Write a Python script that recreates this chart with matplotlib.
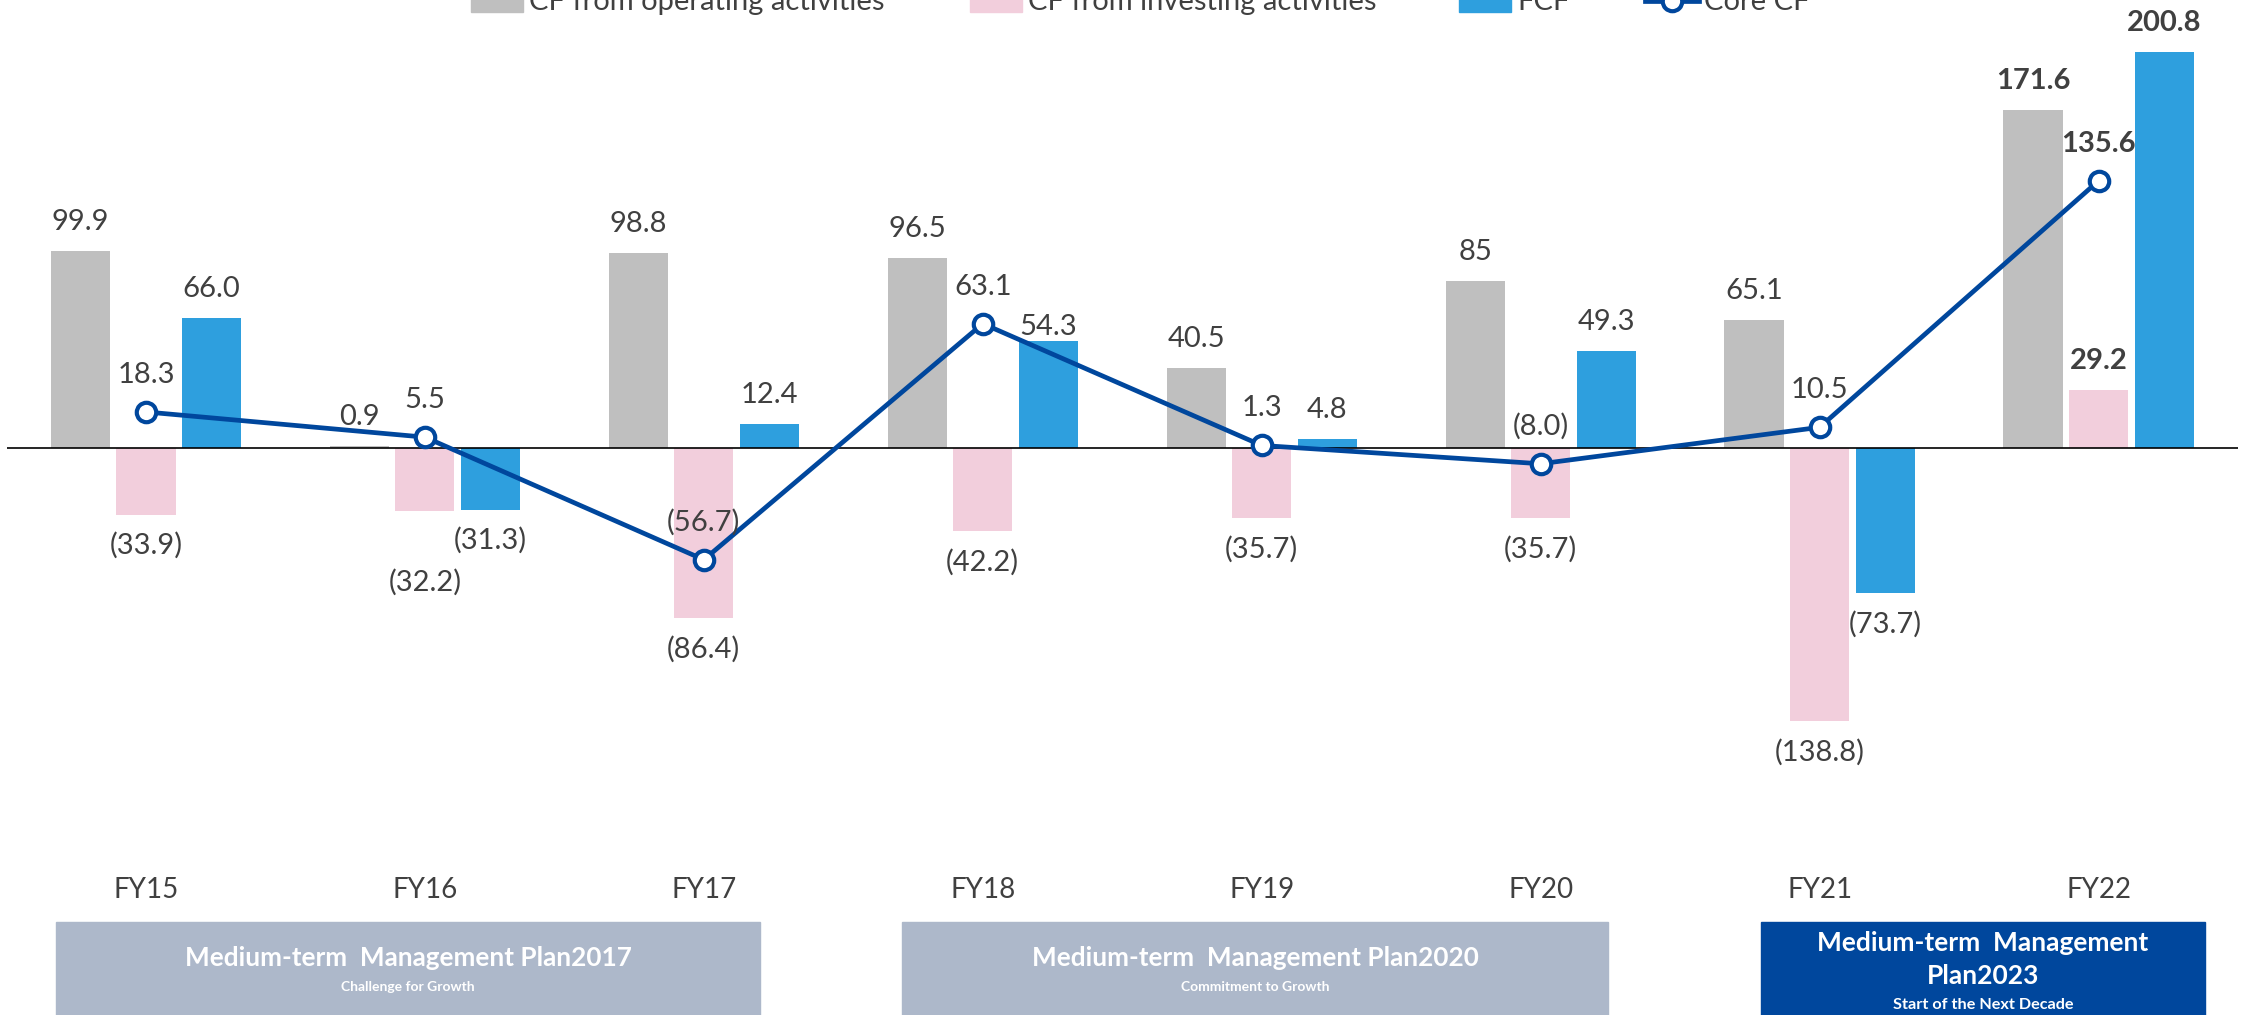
import matplotlib.pyplot as plt
import numpy as np
from matplotlib.patches import Rectangle
from matplotlib.lines import Line2D

plt.rcParams['font.family'] = ['Lato', 'DejaVu Sans']

# data
years = ['FY15', 'FY16', 'FY17', 'FY18', 'FY19', 'FY20', 'FY21', 'FY22']
cf_operating = [99.9, 0.9, 98.8, 96.5, 40.5, 85, 65.1, 171.6]
cf_investing = [-33.9, -32.2, -86.4, -42.2, -35.7, -35.7, -138.8, 29.2]
fcf = [66.0, -31.3, 12.4, 54.3, 4.8, 49.3, -73.7, 200.8]
core_cf = [18.3, 5.5, -56.7, 63.1, 1.3, -8.0, 10.5, 135.6]

plans = ['Medium-term  Management Plan2017', 'Medium-term  Management Plan2020',
         'Medium-term  Management\nPlan2023']
plan_subs = ['Challenge for Growth', 'Commitment to Growth', 'Start of the Next Decade']

c_op = '#BFBFBF'
c_inv = '#F2CEDC'
c_fcf = '#2E9FDE'
c_core = '#00479D'
c_txt = '#404040'

W, H = 2249, 1015
fig = plt.figure(figsize=(W / 100, H / 100), dpi=100)
ax_bottom = 860
ax = fig.add_axes([6.5 / W, 1 - ax_bottom / H, 2231.5 / W, ax_bottom / H])
px_per_unit = 1.97
ax.set_ylim(-(ax_bottom - 448) / px_per_unit, 448 / px_per_unit)
ax.set_xlim(-0.5, 7.5)

x = np.arange(len(years))
bw = 0.212
off = 0.235
ax.bar(x - off, cf_operating, bw, color=c_op, zorder=2)
ax.bar(x, cf_investing, bw, color=c_inv, zorder=2)
ax.bar(x + off, fcf, bw, color=c_fcf, zorder=2)
ax.axhline(0, color='black', lw=1.2, zorder=3)
ax.plot(x, core_cf, color=c_core, lw=3.4, marker='o', ms=14, mfc='white',
        mec=c_core, mew=3, zorder=5)


def fmt(v, g=False):
    s = f"{abs(v):g}" if g else f"{abs(v):.1f}"
    return f"({s})" if v < 0 else s


# manual nudges (pixels) for a few labels
extra = {('inv', 1): -40, ('fcf', 3): -15}

for i in range(len(years)):
    bold = 'bold' if i == len(years) - 1 else 'normal'
    for key, vals, dx, g in [('op', cf_operating, -off, True), ('inv', cf_investing, 0, False),
                             ('fcf', fcf, off, False)]:
        v = vals[i]
        dy = 29 if v >= 0 else -31
        dy += extra.get((key, i), 0)
        ax.annotate(fmt(v, g), (x[i] + dx, v), xytext=(0, dy), textcoords='offset pixels',
                    ha='center', va='center', fontsize=21, color=c_txt, fontweight=bold, zorder=6)
    ax.annotate(fmt(core_cf[i]), (x[i], core_cf[i]), xytext=(0, 37), textcoords='offset pixels',
                ha='center', va='center', fontsize=21, color=c_txt, fontweight=bold, zorder=6)

ax.set_xticks(x, years)
ax.tick_params(axis='x', length=0, pad=12, labelsize=20, labelcolor=c_txt)
ax.set_yticks([])
for s in ax.spines.values():
    s.set_visible(False)

# plan boxes
boxes = [(56, 760, '#ADB8CA'), (902, 1608, '#ADB8CA'), (1761, 2205, '#00479D')]
for (x0, x1, col), title, sub in zip(boxes, plans, plan_subs):
    fig.patches.append(Rectangle((x0 / W, 0), (x1 - x0) / W, (H - 922) / H,
                                 transform=fig.transFigure, color=col, zorder=0))
    xc = (x0 + x1) / 2 / W
    if '\n' in title:
        fig.text(xc, 1 - 943 / H, title.split('\n')[0], ha='center', va='center',
                 color='white', fontsize=19, fontweight='bold')
        fig.text(xc, 1 - 976 / H, title.split('\n')[1], ha='center', va='center',
                 color='white', fontsize=19, fontweight='bold')
        fig.text(xc, 1 - 1005 / H, sub, ha='center', va='center',
                 color='white', fontsize=11.7, fontweight='bold')
    else:
        fig.text(xc, 1 - 958 / H, title, ha='center', va='center',
                 color='white', fontsize=18.8, fontweight='bold')
        fig.text(xc, 1 - 987 / H, sub, ha='center', va='center',
                 color='white', fontsize=10, fontweight='bold')

# legend (cut at the top edge, as in the source)
leg_y = 1 - 2 / H
items = [(471, 523, c_op, 'CF from operating activities'),
         (970, 1022, c_inv, 'CF from investing activities'),
         (1459, 1511, c_fcf, 'FCF')]
for x0, x1, col, lab in items:
    fig.patches.append(Rectangle((x0 / W, 1 - 12 / H), (x1 - x0) / W, 22 / H,
                                 transform=fig.transFigure, color=col))
    fig.text((x1 + 6) / W, leg_y, lab, ha='left', va='center', fontsize=21, color=c_txt)
fig.lines.append(Line2D([1645 / W, 1699 / W], [1 - 1 / H, 1 - 1 / H], transform=fig.transFigure,
                        color=c_core, lw=3.4))
fig.lines.append(Line2D([1672 / W], [1 - 1 / H], transform=fig.transFigure, color=c_core,
                        marker='o', ms=14, mfc='white', mec=c_core, mew=3))
fig.text(1704 / W, leg_y, 'Core CF', ha='left', va='center', fontsize=21, color=c_txt)

fig.savefig('out.png', dpi=100)
